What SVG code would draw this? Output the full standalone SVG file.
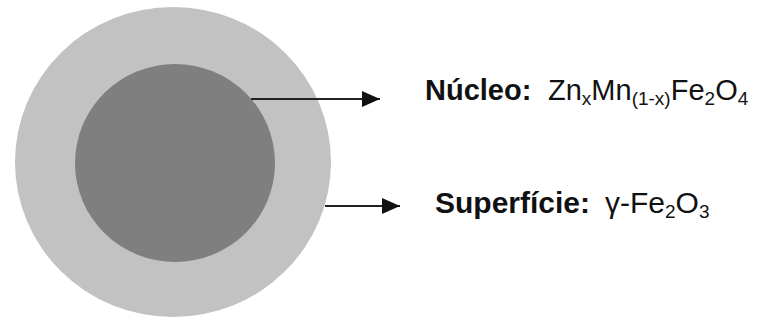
<svg xmlns="http://www.w3.org/2000/svg" width="775" height="323" viewBox="0 0 775 323">
  <style>
    .lbl { font-family: "Liberation Sans", Arial, sans-serif; fill: #111; }
    .b { font-weight: bold; }
    .conn { stroke: #222; stroke-width: 2; fill: none; }
  </style>
  <defs>
    <marker id="tip" viewBox="0 0 18 16" markerWidth="18" markerHeight="16" refX="18" refY="8" orient="auto" markerUnits="userSpaceOnUse">
      <path d="M0,0 L18,8 L0,16 Z" fill="#111"/>
    </marker>
  </defs>
  <rect width="775" height="323" fill="#ffffff"/>

  <g id="shell">
    <ellipse cx="173" cy="162" rx="158" ry="155" fill="#c2c2c2"/>
  </g>
  <g id="core">
    <ellipse cx="175" cy="163" rx="100" ry="99" fill="#7f7f7f"/>
  </g>

  <g id="connectors">
    <line class="conn" x1="251" y1="99" x2="380" y2="99" marker-end="url(#tip)"/>
    <line class="conn" x1="325" y1="206" x2="400" y2="206" marker-end="url(#tip)"/>
  </g>

  <g id="label-core">
    <text class="lbl" x="425" y="100" font-size="29"><tspan class="b">Núcleo:</tspan><tspan x="548">Zn</tspan><tspan font-size="19" dy="5">x</tspan><tspan dy="-5">Mn</tspan><tspan font-size="19" dy="5">(1-x)</tspan><tspan dy="-5">Fe</tspan><tspan font-size="19" dy="5">2</tspan><tspan dy="-5">O</tspan><tspan font-size="19" dy="5">4</tspan></text>
  </g>

  <g id="label-shell">
    <text class="lbl" x="435" y="213" font-size="30"><tspan class="b">Superfície:</tspan><tspan x="605" font-size="30">γ-Fe</tspan><tspan font-size="19" dy="5">2</tspan><tspan dy="-5" font-size="30">O</tspan><tspan font-size="19" dy="5">3</tspan></text>
  </g>
</svg>
